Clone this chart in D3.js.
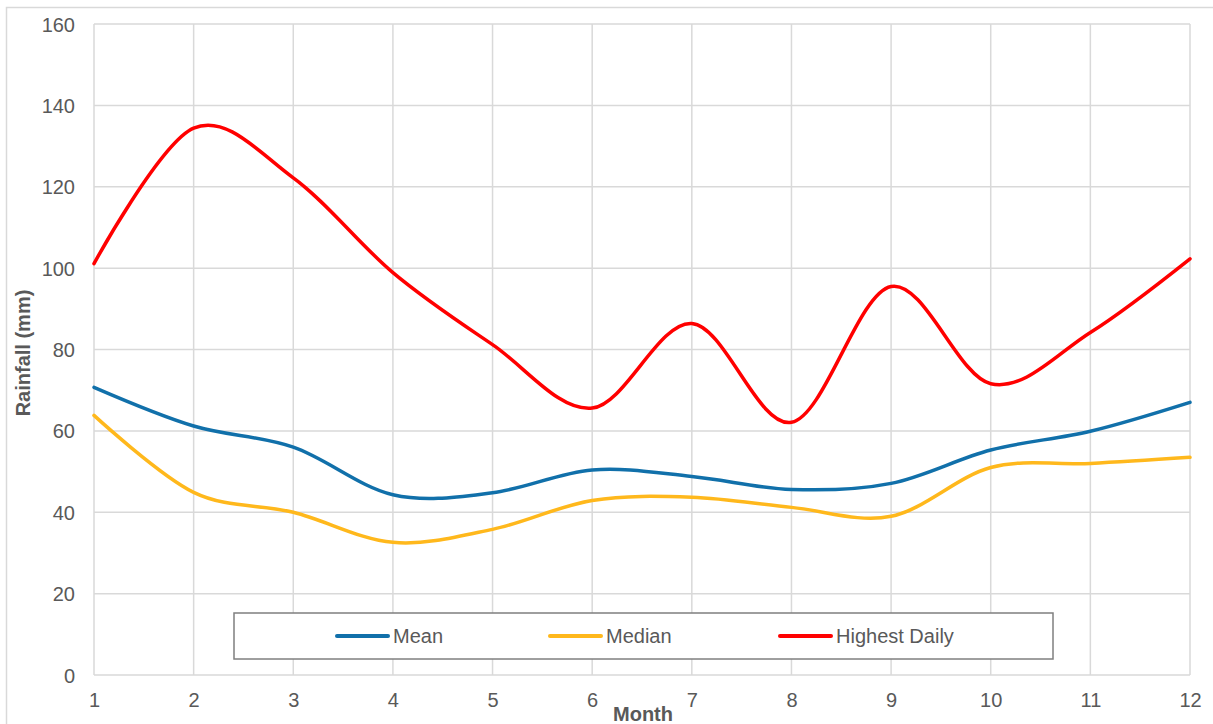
<!DOCTYPE html>
<html><head><meta charset="utf-8">
<script src="https://cdn.jsdelivr.net/npm/d3@7"></script>
<style>body{margin:0;background:#fff;}svg{display:block;font-family:"Liberation Sans",Arial,sans-serif;}</style>
</head><body><svg id="c" width="1213" height="724"></svg>
<script>
const months = [1,2,3,4,5,6,7,8,9,10,11,12];
const meanVals = [70.7,61.2,56.0,44.3,44.8,50.4,48.8,45.6,47.1,55.3,59.9,67.0];
const medianVals = [63.8,44.9,40.0,32.6,35.8,42.9,43.7,41.2,39.0,51.0,52.0,53.5];
const highestVals = [101.1,134.4,122.2,98.9,81.2,65.6,86.4,62.1,95.5,71.6,84.2,102.3];
const yTicks = [0,20,40,60,80,100,120,140,160];
const seriesNames = ["Mean","Median","Highest Daily"];
const seriesColors = ["#1170aa","#ffb81c","#ff0000"];

const svg = d3.select("#c");
const L=94,R=1190,T=24,B=675;
const x = d3.scaleLinear().domain([1,12]).range([L,R]);
const y = d3.scaleLinear().domain([0,160]).range([B,T]);

// outer border
svg.append("rect").attr("x",6.5).attr("y",7.5).attr("width",1220).attr("height",730)
  .attr("fill","none").attr("stroke","#d9d9d9").attr("stroke-width",1.5);

// gridlines
svg.append("g").selectAll("line").data(yTicks).join("line")
  .attr("x1",L).attr("x2",R).attr("y1",d=>y(d)).attr("y2",d=>y(d))
  .attr("stroke","#d9d9d9").attr("stroke-width",1.5);
svg.append("g").selectAll("line").data(months).join("line")
  .attr("x1",d=>x(d)).attr("x2",d=>x(d)).attr("y1",T).attr("y2",B)
  .attr("stroke","#d9d9d9").attr("stroke-width",1.5);

// axes
const yAxis = d3.axisLeft(y).tickValues(yTicks).tickSize(0).tickPadding(19);
const gy = svg.append("g").attr("transform",`translate(${L},0)`).call(yAxis);
gy.select(".domain").remove();
gy.selectAll("text").attr("font-size",20).attr("fill","#595959").attr("dy","0.35em");
const xAxis = d3.axisBottom(x).tickValues(months).tickSize(0).tickPadding(18);
const gx = svg.append("g").attr("transform",`translate(0,${B})`).call(xAxis);
gx.select(".domain").remove();
gx.selectAll("text").attr("font-size",20).attr("fill","#595959");

// axis titles
svg.append("text").attr("x",643).attr("y",721).attr("text-anchor","middle")
  .attr("font-size",20).attr("font-weight","bold").attr("fill","#595959").text("Month");
svg.append("text").attr("transform","translate(30,353) rotate(-90)").attr("text-anchor","middle")
  .attr("font-size",20).attr("font-weight","bold").attr("fill","#595959").text("Rainfall (mm)");

// lines
const line = d3.line().x((d,i)=>x(months[i])).y(d=>y(d)).curve(d3.curveCardinal.tension(0));
[meanVals,medianVals,highestVals].forEach((vals,k)=>{
  svg.append("path").datum(vals).attr("d",line).attr("fill","none")
    .attr("stroke",seriesColors[k]).attr("stroke-width",3.5).attr("stroke-linecap","round");
});

// legend
svg.append("rect").attr("x",234).attr("y",613).attr("width",819).attr("height",46)
  .attr("fill","#fff").attr("stroke","#7f7f7f").attr("stroke-width",1.5);
const legX=[337,550,780];
seriesNames.forEach((n,k)=>{
  svg.append("line").attr("x1",legX[k]).attr("x2",legX[k]+51).attr("y1",636).attr("y2",636)
    .attr("stroke",seriesColors[k]).attr("stroke-width",4).attr("stroke-linecap","round");
  svg.append("text").attr("x",legX[k]+56).attr("y",636).attr("dy","0.35em")
    .attr("font-size",20).attr("fill","#595959").text(n);
});
</script></body></html>
